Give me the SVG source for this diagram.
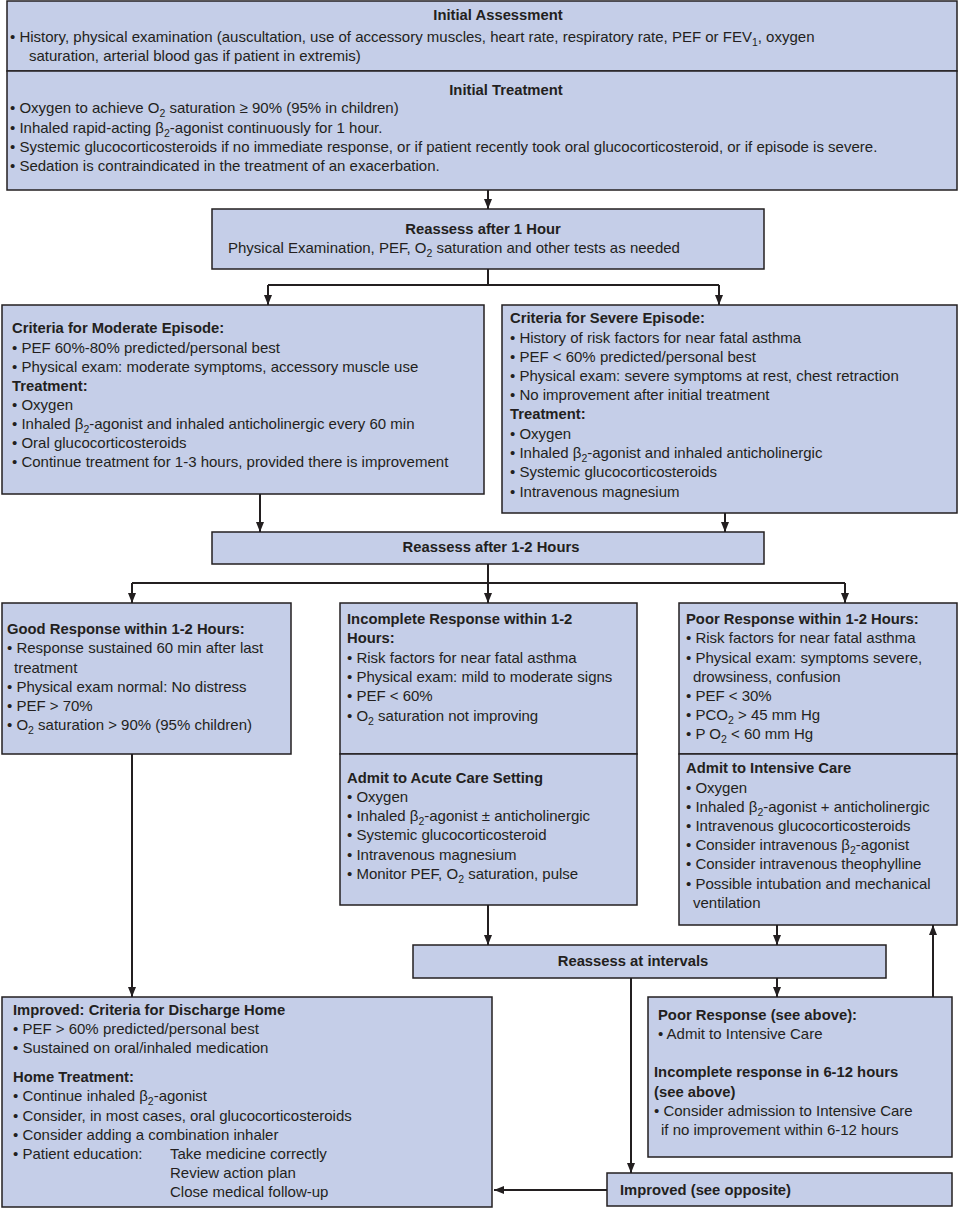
<svg xmlns="http://www.w3.org/2000/svg" width="959" height="1208" viewBox="0 0 959 1208">
<defs>
<style>
.box{fill:#c5cee8;stroke:#231f20;stroke-width:1.5}
text{font-family:"Liberation Sans",Arial,sans-serif;font-size:15px;fill:#231f20}
.b{font-weight:bold;font-size:14.8px}
.m{text-anchor:middle}
.s{font-size:10.5px}
.cn{fill:none;stroke:#231f20;stroke-width:2}
</style>
<marker id="ah" viewBox="0 0 10 8" refX="10" refY="4" markerWidth="10" markerHeight="8" orient="auto" markerUnits="userSpaceOnUse"><path d="M0,0 L10,4 L0,8 z" fill="#231f20"/></marker>
</defs>
<rect width="959" height="1208" fill="#ffffff"/>

<g id="connectors">
<path class="cn" d="M488,190 V209" marker-end="url(#ah)"/>
<path class="cn" d="M488,269 V285"/>
<path class="cn" d="M268,285 H719"/>
<path class="cn" d="M268,285 V305" marker-end="url(#ah)"/>
<path class="cn" d="M719,285 V305" marker-end="url(#ah)"/>
<path class="cn" d="M260,494 V532" marker-end="url(#ah)"/>
<path class="cn" d="M725,513 V532" marker-end="url(#ah)"/>
<path class="cn" d="M488,564 V583"/>
<path class="cn" d="M132,583 H845"/>
<path class="cn" d="M132,583 V603" marker-end="url(#ah)"/>
<path class="cn" d="M488,583 V603" marker-end="url(#ah)"/>
<path class="cn" d="M845,583 V603" marker-end="url(#ah)"/>
<path class="cn" d="M132,754 V997" marker-end="url(#ah)"/>
<path class="cn" d="M488,905 V945" marker-end="url(#ah)"/>
<path class="cn" d="M777,925 V945" marker-end="url(#ah)"/>
<path class="cn" d="M777,978 V997" marker-end="url(#ah)"/>
<path class="cn" d="M933,997 V925" marker-end="url(#ah)"/>
<path class="cn" d="M631,978 V1173" marker-end="url(#ah)"/>
<path class="cn" d="M607,1190 H494" marker-end="url(#ah)"/>
</g>

<g id="initial-assessment">
<rect class="box" x="7" y="1" width="950" height="70"/>
<text class="b m" x="498" y="20">Initial Assessment</text>
<text x="10" y="42">• History, physical examination (auscultation, use of accessory muscles, heart rate, respiratory rate, PEF or FEV<tspan class="s" dy="4">1</tspan><tspan dy="-4">, oxygen</tspan></text>
<text x="29" y="61">saturation, arterial blood gas if patient in extremis)</text>
</g>

<g id="initial-treatment">
<rect class="box" x="7" y="71" width="950" height="119"/>
<text class="b m" x="506" y="95">Initial Treatment</text>
<text x="10" y="113">• Oxygen to achieve O<tspan class="s" dy="4">2</tspan><tspan dy="-4"> saturation ≥ 90% (95% in children)</tspan></text>
<text x="10" y="133">• Inhaled rapid-acting β<tspan class="s" dy="4">2</tspan><tspan dy="-4">-agonist continuously for 1 hour.</tspan></text>
<text x="10" y="152">• Systemic glucocorticosteroids if no immediate response, or if patient recently took oral glucocorticosteroid, or if episode is severe.</text>
<text x="10" y="171">• Sedation is contraindicated in the treatment of an exacerbation.</text>
</g>

<g id="reassess-1h">
<rect class="box" x="212" y="209" width="552" height="60"/>
<text class="b m" x="483" y="234">Reassess after 1 Hour</text>
<text x="228" y="253">Physical Examination, PEF, O<tspan class="s" dy="4">2</tspan><tspan dy="-4"> saturation and other tests as needed</tspan></text>
</g>

<g id="moderate">
<rect class="box" x="2" y="305" width="482" height="189"/>
<text class="b" x="12" y="333">Criteria for Moderate Episode:</text>
<text x="12" y="353">• PEF 60%-80% predicted/personal best</text>
<text x="12" y="372">• Physical exam: moderate symptoms, accessory muscle use</text>
<text class="b" x="12" y="391">Treatment:</text>
<text x="12" y="410">• Oxygen</text>
<text x="12" y="429">• Inhaled β<tspan class="s" dy="4">2</tspan><tspan dy="-4">-agonist and inhaled anticholinergic every 60 min</tspan></text>
<text x="12" y="448">• Oral glucocorticosteroids</text>
<text x="12" y="467">• Continue treatment for 1-3 hours, provided there is improvement</text>
</g>

<g id="severe">
<rect class="box" x="502" y="305" width="455" height="208"/>
<text class="b" x="510" y="323">Criteria for Severe Episode:</text>
<text x="510" y="343">• History of risk factors for near fatal asthma</text>
<text x="510" y="362">• PEF &lt; 60% predicted/personal best</text>
<text x="510" y="381">• Physical exam: severe symptoms at rest, chest retraction</text>
<text x="510" y="400">• No improvement after initial treatment</text>
<text class="b" x="510" y="419">Treatment:</text>
<text x="510" y="439">• Oxygen</text>
<text x="510" y="458">• Inhaled β<tspan class="s" dy="4">2</tspan><tspan dy="-4">-agonist and inhaled anticholinergic</tspan></text>
<text x="510" y="477">• Systemic glucocorticosteroids</text>
<text x="510" y="497">• Intravenous magnesium</text>
</g>

<g id="reassess-1-2h">
<rect class="box" x="212" y="532" width="552" height="32"/>
<text class="b m" x="491" y="552">Reassess after 1-2 Hours</text>
</g>

<g id="good-response">
<rect class="box" x="2" y="603" width="289" height="151"/>
<text class="b" x="7" y="634">Good Response within 1-2 Hours:</text>
<text x="7" y="653">• Response sustained 60 min after last</text>
<text x="14" y="673">treatment</text>
<text x="7" y="692">• Physical exam normal: No distress</text>
<text x="7" y="711">• PEF &gt; 70%</text>
<text x="7" y="730">• O<tspan class="s" dy="4">2</tspan><tspan dy="-4"> saturation &gt; 90% (95% children)</tspan></text>
</g>

<g id="incomplete-response">
<rect class="box" x="340" y="603" width="297" height="151"/>
<text class="b" x="347" y="624">Incomplete Response within 1-2</text>
<text class="b" x="347" y="643">Hours:</text>
<text x="347" y="663">• Risk factors for near fatal asthma</text>
<text x="347" y="682">• Physical exam: mild to moderate signs</text>
<text x="347" y="701">• PEF &lt; 60%</text>
<text x="347" y="721">• O<tspan class="s" dy="4">2</tspan><tspan dy="-4"> saturation not improving</tspan></text>
</g>

<g id="acute-care">
<rect class="box" x="340" y="754" width="297" height="151"/>
<text class="b" x="347" y="783">Admit to Acute Care Setting</text>
<text x="347" y="802">• Oxygen</text>
<text x="347" y="821">• Inhaled β<tspan class="s" dy="4">2</tspan><tspan dy="-4">-agonist ± anticholinergic</tspan></text>
<text x="347" y="840">• Systemic glucocorticosteroid</text>
<text x="347" y="860">• Intravenous magnesium</text>
<text x="347" y="879">• Monitor PEF, O<tspan class="s" dy="4">2</tspan><tspan dy="-4"> saturation, pulse</tspan></text>
</g>

<g id="poor-response">
<rect class="box" x="679" y="603" width="278" height="151"/>
<text class="b" x="686" y="624">Poor Response within 1-2 Hours:</text>
<text x="686" y="643">• Risk factors for near fatal asthma</text>
<text x="686" y="663">• Physical exam: symptoms severe,</text>
<text x="693" y="682">drowsiness, confusion</text>
<text x="686" y="701">• PEF &lt; 30%</text>
<text x="686" y="720">• PCO<tspan class="s" dy="4">2</tspan><tspan dy="-4"> &gt; 45 mm Hg</tspan></text>
<text x="686" y="739">• P O<tspan class="s" dy="4">2</tspan><tspan dy="-4"> &lt; 60 mm Hg</tspan></text>
</g>

<g id="intensive-care">
<rect class="box" x="679" y="754" width="278" height="171"/>
<text class="b" x="686" y="773">Admit to Intensive Care</text>
<text x="686" y="793">• Oxygen</text>
<text x="686" y="812">• Inhaled β<tspan class="s" dy="4">2</tspan><tspan dy="-4">-agonist + anticholinergic</tspan></text>
<text x="686" y="831">• Intravenous glucocorticosteroids</text>
<text x="686" y="850">• Consider intravenous β<tspan class="s" dy="4">2</tspan><tspan dy="-4">-agonist</tspan></text>
<text x="686" y="869">• Consider intravenous theophylline</text>
<text x="686" y="889">• Possible intubation and mechanical</text>
<text x="693" y="908">ventilation</text>
</g>

<g id="reassess-intervals">
<rect class="box" x="413" y="945" width="473" height="33"/>
<text class="b m" x="633" y="966">Reassess at intervals</text>
</g>

<g id="discharge">
<rect class="box" x="2" y="997" width="490" height="210"/>
<text class="b" x="13" y="1015">Improved: Criteria for Discharge Home</text>
<text x="13" y="1034">• PEF &gt; 60% predicted/personal best</text>
<text x="13" y="1053">• Sustained on oral/inhaled medication</text>
<text class="b" x="13" y="1082">Home Treatment:</text>
<text x="13" y="1101">• Continue inhaled β<tspan class="s" dy="4">2</tspan><tspan dy="-4">-agonist</tspan></text>
<text x="13" y="1121">• Consider, in most cases, oral glucocorticosteroids</text>
<text x="13" y="1140">• Consider adding a combination inhaler</text>
<text x="13" y="1159">• Patient education:</text>
<text x="170" y="1159">Take medicine correctly</text>
<text x="170" y="1178">Review action plan</text>
<text x="170" y="1197">Close medical follow-up</text>
</g>

<g id="poor-response-later">
<rect class="box" x="648" y="997" width="304" height="160"/>
<text class="b" x="658" y="1020">Poor Response (see above):</text>
<text x="658" y="1039">• Admit to Intensive Care</text>
<text class="b" x="654" y="1077">Incomplete response in 6-12 hours</text>
<text class="b" x="654" y="1097">(see above)</text>
<text x="654" y="1116">• Consider admission to Intensive Care</text>
<text x="661" y="1135">if no improvement within 6-12 hours</text>
</g>

<g id="improved">
<rect class="box" x="607" y="1173" width="345" height="33"/>
<text class="b" x="620" y="1195">Improved (see opposite)</text>
</g>
</svg>
